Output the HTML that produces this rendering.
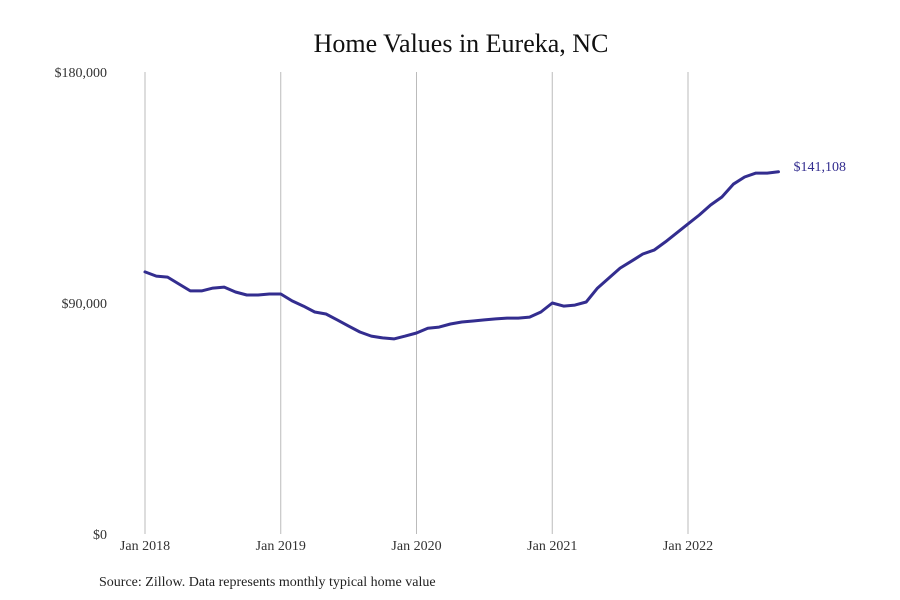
<!DOCTYPE html>
<html><head><meta charset="utf-8"><style>
body{margin:0;background:#fff;}
svg{display:block;font-family:"Liberation Serif",serif;}
</style></head><body>
<svg id="chart" width="900" height="600">
<rect width="900" height="600" fill="#fff"/>
<text x="461" y="52" text-anchor="middle" font-size="26" fill="#111">Home Values in Eureka, NC</text>
<g id="grid"></g><g id="yaxis"></g><g id="xaxis"></g><g id="series"></g>
<text x="99" y="586" font-size="14" fill="#222">Source: Zillow. Data represents monthly typical home value</text>
</svg>
<script>
const yTicks=[0,90000,180000];
const yTickLabels=["$0","$90,000","$180,000"];
const xTickYears=[2018,2019,2020,2021,2022];
const xTickLabels=["Jan 2018","Jan 2019","Jan 2020","Jan 2021","Jan 2022"];
const startYear=2018;
const values=[102.1,100.5,100.1,97.4,94.7,94.7,95.8,96.2,94.3,93.1,93.1,93.5,
93.5,90.8,88.8,86.5,85.7,83.4,81.0,78.7,77.1,76.4,76.0,77.1,
78.3,80.2,80.6,81.8,82.6,83.0,83.4,83.8,84.1,84.1,84.5,86.5,
90.0,88.8,89.2,90.4,95.8,99.7,103.6,106.3,109.1,110.6,113.8,117.3,
120.8,124.3,128.2,131.3,136.3,139.1,140.6,140.6,141.108];
const lastLabel="$141,108";
const NS="http://www.w3.org/2000/svg";
const x=m=>145+m*(688-145)/48;
const y=v=>534-v/180000*462;
function mk(tag,attrs,parent,text){const e=document.createElementNS(NS,tag);for(const k in attrs)e.setAttribute(k,attrs[k]);if(text!==undefined)e.textContent=text;document.getElementById(parent).appendChild(e);return e;}
xTickYears.forEach((yr,i)=>{const m=(yr-startYear)*12;
const l=mk('line',{x1:x(m),x2:x(m),y1:72,y2:534,stroke:'#bbb','stroke-width':1},'grid');


const t=mk('text',{x:x(m),y:550,'text-anchor':'middle','font-size':14,fill:'#333'},'xaxis',xTickLabels[i]);

});
yTicks.forEach((v,i)=>{const t=mk('text',{x:107,y:y(v)+5,'text-anchor':'end','font-size':14,fill:'#333'},'yaxis',yTickLabels[i]);

});
const pts=values.map((v,i)=>x(i).toFixed(1)+','+y(v*1000).toFixed(1)).join(' ');
const p=mk('polyline',{points:pts,fill:'none',stroke:'#332d8f','stroke-width':3,'stroke-linejoin':'round','stroke-linecap':'round'},'series');


const li=values.length-1;
const lt=mk('text',{x:x(li)+15,y:y(values[li]*1000)-1,'font-size':14,fill:'#332d8f'},'series',lastLabel);


</script>
</body></html>
